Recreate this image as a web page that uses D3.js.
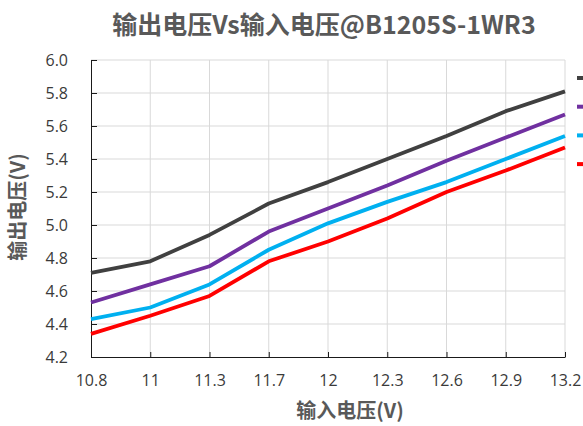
<!DOCTYPE html>
<html>
<head>
    <meta charset="UTF-8">
    <title>输出电压Vs输入电压@B1205S-1WR3</title>
    <style>
        body { margin: 0; background: #fff; }
        .tick text { font-family: "Open Sans", "Noto Sans", sans-serif; font-size: 16px; fill: #3a3a3a; }
        .grid line { stroke: #d9d9d9; stroke-width: 1px; }
        .title, .axis-title { font-family: "Noto Sans CJK SC", sans-serif; font-weight: bold; fill: #595959; }
    </style>
</head>
<body>
<div id="vis"></div>
<script src="https://cdn.jsdelivr.net/npm/d3@7"></script>
<script>
    var width = 583, height = 426;
    var margin = {top: 60, right: 18, bottom: 69, left: 91};

    // input voltage categories (x axis)
    var vin = ["10.8", "11", "11.3", "11.7", "12", "12.3", "12.6", "12.9", "13.2"];
    var yTicks = [4.2, 4.4, 4.6, 4.8, 5.0, 5.2, 5.4, 5.6, 5.8, 6.0];

    // output voltage, one array per curve
    var seriesA = [4.71, 4.78, 4.94, 5.13, 5.26, 5.40, 5.54, 5.69, 5.81];
    var seriesB = [4.53, 4.64, 4.75, 4.96, 5.10, 5.24, 5.39, 5.53, 5.67];
    var seriesC = [4.43, 4.50, 4.64, 4.85, 5.01, 5.14, 5.26, 5.40, 5.54];
    var seriesD = [4.34, 4.45, 4.57, 4.78, 4.90, 5.04, 5.20, 5.33, 5.47];

    var series = [
        {values: seriesA, color: "#404040"},
        {values: seriesB, color: "#7030a0"},
        {values: seriesC, color: "#00b0f0"},
        {values: seriesD, color: "#ff0000"}
    ];

    var svg = d3.select("#vis").append("svg")
            .attr("width", width)
            .attr("height", height);

    var x = d3.scalePoint()
            .domain(vin)
            .range([margin.left, width - margin.right]);

    var y = d3.scaleLinear()
            .domain([4.2, 6.0])
            .range([height - margin.bottom, margin.top]);

    // gridlines
    svg.append("g")
            .attr("class", "grid")
            .selectAll("line.h")
            .data(yTicks.slice(1))
            .enter().append("line")
            .attr("x1", margin.left).attr("x2", width - margin.right)
            .attr("y1", function(d) { return y(d); })
            .attr("y2", function(d) { return y(d); });

    svg.select(".grid")
            .selectAll("line.v")
            .data(vin.slice(1))
            .enter().append("line")
            .attr("x1", function(d) { return x(d); })
            .attr("x2", function(d) { return x(d); })
            .attr("y1", margin.top).attr("y2", height - margin.bottom);

    // axes
    var yAxis = svg.append("g")
            .attr("transform", "translate(" + margin.left + ",0)")
            .call(d3.axisLeft(y).tickValues(yTicks).tickFormat(d3.format(".1f")).tickSizeInner(-6).tickSizeOuter(0).tickPadding(23));
    yAxis.selectAll(".domain, .tick line").attr("stroke", "#1a1a1a");

    var xAxis = svg.append("g")
            .attr("transform", "translate(0," + (height - margin.bottom) + ")")
            .call(d3.axisBottom(x).tickSizeInner(-5).tickSizeOuter(0).tickPadding(18));
    xAxis.selectAll(".domain, .tick line").attr("stroke", "#1a1a1a");

    // curves
    var line = d3.line()
            .x(function(d, i) { return x(vin[i]); })
            .y(function(d) { return y(d); });

    svg.selectAll(".curve")
            .data(series)
            .enter().append("path")
            .attr("class", "curve")
            .attr("d", function(d) { return line(d.values); })
            .attr("fill", "none")
            .attr("stroke", function(d) { return d.color; })
            .attr("stroke-width", 3.8)
            .attr("stroke-linejoin", "round");

    // legend markers (labels fall outside the picture)
    svg.selectAll(".legend")
            .data(series)
            .enter().append("line")
            .attr("class", "legend")
            .attr("x1", 577).attr("x2", 595)
            .attr("y1", function(d, i) { return 78 + i * 28.7; })
            .attr("y2", function(d, i) { return 78 + i * 28.7; })
            .attr("stroke", function(d) { return d.color; })
            .attr("stroke-width", 4);

    // titles
    svg.append("text")
            .attr("class", "title")
            .attr("x", 324).attr("y", 34)
            .attr("text-anchor", "middle")
            .style("font-size", "25px")
            .text("输出电压Vs输入电压@B1205S-1WR3");

    svg.append("text")
            .attr("class", "axis-title")
            .attr("x", 350).attr("y", 418)
            .attr("text-anchor", "middle")
            .style("font-size", "20px")
            .text("输入电压(V)");

    svg.append("text")
            .attr("class", "axis-title")
            .attr("transform", "translate(25,207) rotate(-90)")
            .attr("text-anchor", "middle")
            .style("font-size", "20px")
            .text("输出电压(V)");
</script>
</body>
</html>
